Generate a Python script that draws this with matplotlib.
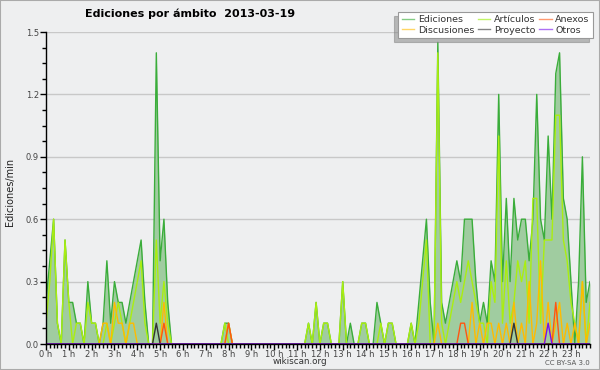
import numpy as np
import matplotlib
matplotlib.use("Agg")
import matplotlib.pyplot as plt
from matplotlib.lines import Line2D
from matplotlib.patches import Rectangle
from matplotlib.ticker import MultipleLocator

px = 1. / 100

# 10-minute bins, one row per hour (edits per minute)
ediciones = [
    0.2, 0.4, 0.6, 0.1, 0.0, 0.5,   # 0 h
    0.2, 0.2, 0.1, 0.1, 0.0, 0.3,   # 1 h
    0.1, 0.1, 0.0, 0.1, 0.4, 0.1,   # 2 h
    0.3, 0.2, 0.2, 0.1, 0.2, 0.3,   # 3 h
    0.4, 0.5, 0.2, 0.0, 0.0, 1.4,   # 4 h
    0.4, 0.6, 0.2, 0.0, 0.0, 0.0,   # 5 h
    0.0, 0.0, 0.0, 0.0, 0.0, 0.0,   # 6 h
    0.0, 0.0, 0.0, 0.0, 0.0, 0.1,   # 7 h
    0.1, 0.0, 0.0, 0.0, 0.0, 0.0,   # 8 h
    0.0, 0.0, 0.0, 0.0, 0.0, 0.0,   # 9 h
    0.0, 0.0, 0.0, 0.0, 0.0, 0.0,   # 10 h
    0.0, 0.0, 0.0, 0.1, 0.0, 0.2,   # 11 h
    0.0, 0.1, 0.1, 0.0, 0.0, 0.0,   # 12 h
    0.3, 0.0, 0.1, 0.0, 0.0, 0.1,   # 13 h
    0.1, 0.0, 0.0, 0.2, 0.1, 0.0,   # 14 h
    0.1, 0.1, 0.0, 0.0, 0.0, 0.0,   # 15 h
    0.1, 0.0, 0.2, 0.4, 0.6, 0.2,   # 16 h
    0.0, 1.45, 0.2, 0.1, 0.2, 0.3,  # 17 h
    0.4, 0.3, 0.6, 0.6, 0.6, 0.3,   # 18 h
    0.1, 0.2, 0.1, 0.4, 0.3, 1.2,   # 19 h
    0.3, 0.7, 0.3, 0.7, 0.5, 0.6,   # 20 h
    0.6, 0.4, 0.6, 1.2, 0.6, 0.5,   # 21 h
    1.0, 0.6, 1.3, 1.4, 0.7, 0.6,   # 22 h
    0.3, 0.0, 0.3, 0.9, 0.2, 0.3,   # 23 h
]

articulos = [
    0.1, 0.3, 0.6, 0.1, 0.0, 0.5,
    0.2, 0.0, 0.1, 0.1, 0.0, 0.2,
    0.1, 0.1, 0.0, 0.0, 0.1, 0.0,
    0.1, 0.2, 0.1, 0.0, 0.1, 0.2,
    0.3, 0.4, 0.1, 0.0, 0.0, 0.5,
    0.1, 0.3, 0.1, 0.0, 0.0, 0.0,
    0.0, 0.0, 0.0, 0.0, 0.0, 0.0,
    0.0, 0.0, 0.0, 0.0, 0.0, 0.1,
    0.0, 0.0, 0.0, 0.0, 0.0, 0.0,
    0.0, 0.0, 0.0, 0.0, 0.0, 0.0,
    0.0, 0.0, 0.0, 0.0, 0.0, 0.0,
    0.0, 0.0, 0.0, 0.1, 0.0, 0.2,
    0.0, 0.1, 0.1, 0.0, 0.0, 0.0,
    0.3, 0.0, 0.0, 0.0, 0.0, 0.1,
    0.1, 0.0, 0.0, 0.0, 0.1, 0.0,
    0.1, 0.1, 0.0, 0.0, 0.0, 0.0,
    0.1, 0.0, 0.1, 0.3, 0.5, 0.0,
    0.0, 1.4, 0.1, 0.0, 0.1, 0.2,
    0.3, 0.2, 0.3, 0.4, 0.3, 0.2,
    0.1, 0.1, 0.0, 0.3, 0.2, 1.0,
    0.1, 0.4, 0.1, 0.2, 0.4, 0.3,
    0.4, 0.1, 0.7, 0.7, 0.1, 0.5,
    0.5, 0.5, 1.1, 1.1, 0.5, 0.4,
    0.2, 0.1, 0.0, 0.3, 0.0, 0.2,
]

# sparse series: bin index -> value
discusiones_bins = [15, 16, 18, 19, 20, 22, 23, 31, 48, 103, 112, 114, 116, 117, 119,
                    121, 123, 125, 127, 129, 130, 132, 134, 135, 137, 139, 141, 143]
discusiones_vals = [0.1, 0.1, 0.2, 0.1, 0.1, 0.1, 0.1, 0.2, 0.1, 0.1, 0.2, 0.1, 0.1, 0.1, 0.1,
                    0.1, 0.2, 0.1, 0.3, 0.1, 0.4, 0.2, 0.1, 0.2, 0.1, 0.1, 0.3, 0.1]
anexos_bins = [31, 48, 109, 110, 134]
anexos_vals = [0.1, 0.1, 0.1, 0.1, 0.2]
proyecto_bins = [29, 123]
proyecto_vals = [0.1, 0.1]
otros_bins = [132]
otros_vals = [0.1]

hour_labels = ["%d h" % h for h in range(24)]


def sparse(bins, vals):
    out = np.zeros(len(ediciones))
    out[bins] = vals
    return out


x = np.arange(len(ediciones)) / 6.
bg = "#eeeff0"

fig = plt.figure(figsize=(600 * px, 370 * px), dpi=100, facecolor=bg)
ax = fig.add_axes([46 / 600, 26 / 370, 544 / 600, 312 / 370])
ax.set_facecolor(bg)

ax.fill_between(x, ediciones, color="#a0cca0", lw=0, zorder=1)
ax.plot(x, ediciones, color="#3aad3a", lw=1.0, zorder=2)
ax.plot(x, articulos, color="#aaee10", lw=1.0, zorder=3)
ax.plot(x, sparse(discusiones_bins, discusiones_vals), color="#ffbb00", lw=1.0, zorder=3)
ax.plot(x, sparse(anexos_bins, anexos_vals), color="#ff5511", lw=1.0, zorder=3)
ax.plot(x, sparse(proyecto_bins, proyecto_vals), color="#333333", lw=1.0, zorder=3)
ax.plot(x, sparse(otros_bins, otros_vals), color="#7711ee", lw=1.0, zorder=3)

ax.set_xlim(0, x[-1])
ax.set_ylim(0, 1.5)
for s in ["top", "right"]:
    ax.spines[s].set_visible(False)
for s in ["left", "bottom"]:
    ax.spines[s].set_color("black")
    ax.spines[s].set_linewidth(1)
    ax.spines[s].set_zorder(5)

ax.yaxis.set_minor_locator(MultipleLocator(0.075))
ax.set_yticks(np.arange(0, 1.51, 0.3), ["%.1f" % v for v in np.arange(0, 1.51, 0.3)])
ax.set_xticks(range(24), hour_labels)
ax.xaxis.set_minor_locator(MultipleLocator(1 / 6.))
ax.tick_params(which="both", direction="out", colors="black", labelcolor="#444444",
               labelsize=6)
ax.tick_params(which="major", length=4, width=1)
ax.tick_params(which="minor", length=3, width=1)
ax.tick_params(axis="x", pad=0)
ax.tick_params(axis="y", pad=1)
ax.yaxis.grid(True, color="#c8c8c8", lw=1)
ax.set_axisbelow(True)

fig.text(85 / 600, 1 - 14 / 370, "Ediciones por ámbito  2013-03-19", ha="left", va="center",
         fontsize=8, fontweight="bold")
fig.text(10 / 600, 1 - 192 / 370, "Ediciones/min", rotation=90, ha="center", va="center",
         fontsize=7, color="#222222")
fig.text(300 / 600, 1 - 362 / 370, "wikiscan.org", ha="center", va="center",
         fontsize=6.3, color="#333333")
fig.text(590 / 600, 1 - 363 / 370, "CC BY-SA 3.0", ha="right", va="center",
         fontsize=5, color="#555555")

handles = [Line2D([], [], color=c, lw=1, alpha=0.6) for c in
           ["#33aa33", "#ffbb00", "#99ee00", "#333333", "#ff5511", "#7711ee"]]
labels = ["Ediciones", "Discusiones", "Artículos", "Proyecto", "Anexos", "Otros"]
leg = fig.legend(handles, labels, ncol=3, loc="upper right",
                 bbox_to_anchor=(593 / 600, 1 - 12 / 370), fontsize=6.8,
                 frameon=True, fancybox=False, shadow={"ox": -3, "oy": -3, "shade": 0.5},
                 edgecolor="#999999", handlelength=1.3, handletextpad=0.4,
                 columnspacing=0.4, borderpad=0.35, labelspacing=0.15, borderaxespad=0)
leg.get_frame().set_linewidth(0.8)
for t in leg.get_texts():
    t.set_color("#333333")

fig.patches.append(Rectangle((0, 0), 1, 1, transform=fig.transFigure, fill=False,
                             edgecolor="#aaaaaa", lw=1.5))

fig.savefig("out.png", dpi=100, facecolor=bg)
